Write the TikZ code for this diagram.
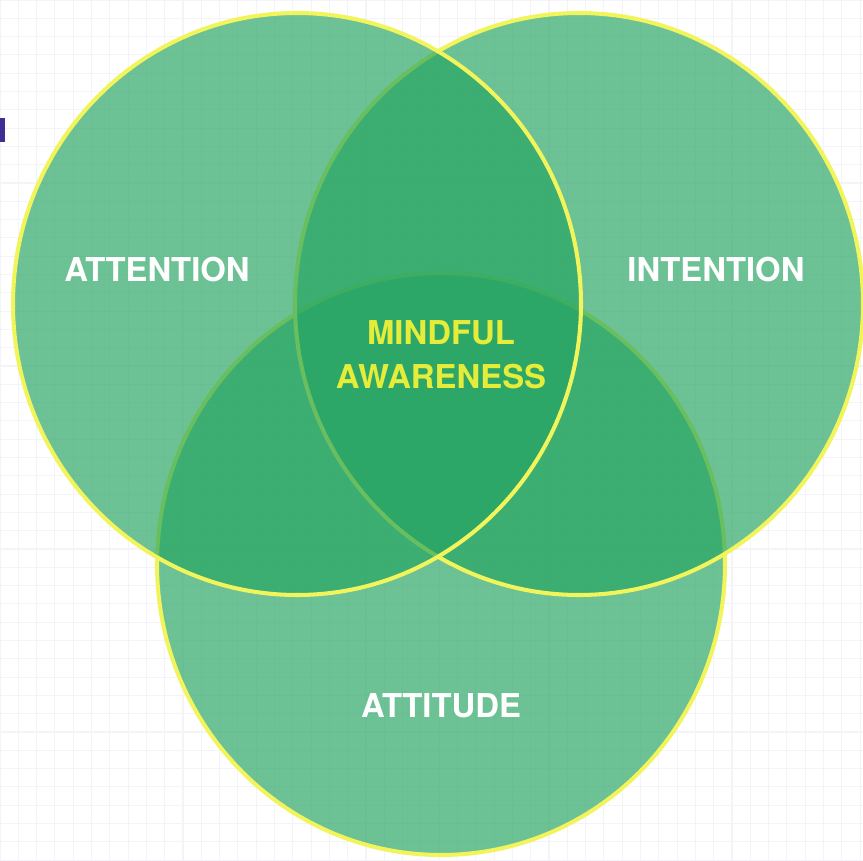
\documentclass[tikz,border=0pt]{standalone}
\usepackage{fontspec}
\setmainfont{TeX Gyre Heros}
\usetikzlibrary{positioning}
\definecolor{setgreen}{RGB}{38,165,98}
\definecolor{rimyellow}{RGB}{242,244,92}
\definecolor{coreyellow}{RGB}{230,236,58}
\definecolor{gridgray}{RGB}{243,243,248}
\definecolor{tabblue}{RGB}{62,46,150}
\tikzset{%
	set/.style={fill=setgreen, fill opacity=0.67, draw=rimyellow, draw opacity=1, line width=2.3pt},
	tag/.style={text=white, font=\fontsize{18.7}{22}\selectfont\bfseries, inner sep=0pt},
	core/.style={text=coreyellow, font=\fontsize{18.7}{25}\selectfont\bfseries, align=center, inner sep=0pt},
	gridline/.style={draw=gridgray, line width=0.6pt}
}
\begin{document}
\begin{tikzpicture}[x=0.02cm, y=-0.02cm]
	\useasboundingbox (0,0) rectangle (863,861);
	\fill[white] (0,0) rectangle (863,861);

	% squared paper behind the sets
	\foreach \g in {0,18.3,...,863} {
		\draw[gridline] (\g,0) -- (\g,861);
		\draw[gridline] (0,\g) -- (863,\g);
	}
	\fill[tabblue] (0,118) rectangle (5,142);

	% the three sets, bottom one first
	\draw[set] (441,564) circle [x radius=284, y radius=291];
	\draw[set] (579,304) circle [x radius=284, y radius=291];
	\draw[set] (297,304) circle [x radius=284, y radius=291];

	\node[tag] (attention) at (157,270) {ATTENTION};
	\node[tag] (intention) at (716,270) {INTENTION};
	\node[tag] (attitude) at (441,706) {ATTITUDE};
	\node[core] (mindful) at (441,355) {MINDFUL\\AWARENESS};
\end{tikzpicture}
\end{document}
